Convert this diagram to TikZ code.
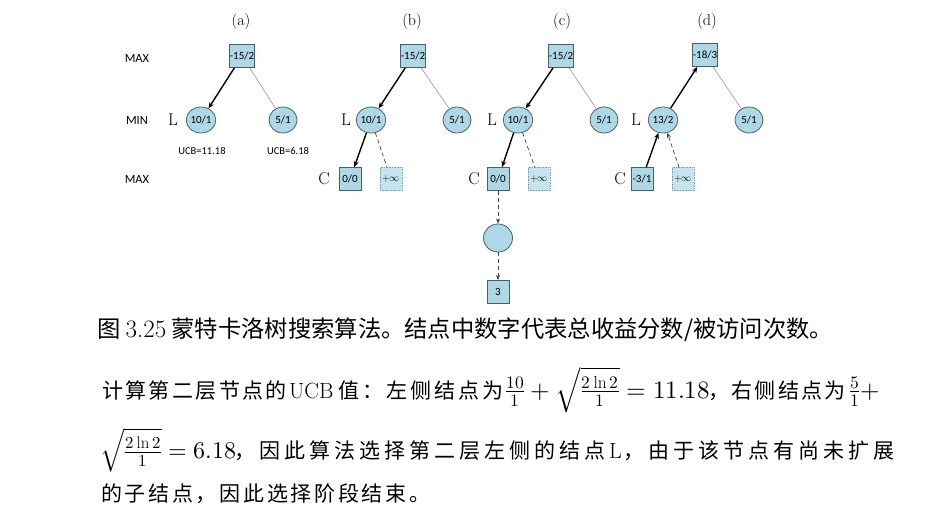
\documentclass[tikz,border=0pt]{standalone}
\usepackage{fontspec}
\usepackage{amsmath}
\usepackage{unicode-math}
\setmathfont{Latin Modern Math}
\setsansfont{Carlito}
\newfontfamily\cjk{Noto Sans CJK SC}
\usetikzlibrary{shapes.geometric,arrows.meta}
\newlength\pitchw
\newcommand\pitched[2]{\setlength\pitchw{#1}\plloop#2\relax}
\def\plloop#1{\ifx\relax#1\else\makebox[\pitchw][l]{#1}\expandafter\plloop\fi}
\definecolor{nfill}{RGB}{174,216,230}
\definecolor{nborder}{RGB}{70,95,110}
\definecolor{infill}{RGB}{196,228,238}
\definecolor{inborder}{RGB}{130,160,175}
\definecolor{thinc}{RGB}{150,150,150}
\tikzset{
  sq/.style={draw=nborder,fill=nfill,line width=0.8pt,minimum width=22pt,minimum height=23pt,inner sep=0pt,font=\sffamily\fontsize{11}{11}\selectfont},
  cir/.style={ellipse,draw=nborder,fill=nfill,line width=0.8pt,minimum width=28pt,minimum height=26pt,inner sep=0pt,font=\sffamily\fontsize{11}{11}\selectfont},
  infbox/.style={draw=inborder,densely dotted,fill=infill,line width=0.6pt,minimum width=22pt,minimum height=23pt,inner sep=0pt,font=\fontsize{10}{10}\selectfont},
  bigcir/.style={cir,minimum width=29pt,minimum height=28pt},
  sublbl/.style={font=\fontsize{16}{16}\selectfont},
  sidelbl/.style={font=\fontsize{17}{17}\selectfont},
  lvl/.style={font=\sffamily\fontsize{12.5}{12.5}\selectfont},
  ucb/.style={font=\sffamily\fontsize{10.5}{10.5}\selectfont},
  bold/.style={-{Stealth[length=6pt,width=5pt]},line width=1.4pt,black},
  weak/.style={thinc,line width=0.6pt},
  dsh/.style={dashed,dash pattern=on 4pt off 3pt,line width=0.7pt,black!75},
  dsharr/.style={dsh,-{Stealth[length=5pt,width=4pt]}},
  txt/.style={anchor=base west,inner sep=0pt,font=\fontsize{21}{24}\selectfont\cjk},
  lat/.style={anchor=base west,inner sep=0pt,font=\rmfamily\fontsize{22}{24}\selectfont},
  mth/.style={anchor=base west,inner sep=0pt,font=\fontsize{25}{27}\selectfont},
  mths/.style={mth,font=\fontsize{24}{26}\selectfont},
}
\begin{document}
\begin{tikzpicture}[x=1pt,y=-1pt]
\useasboundingbox[fill=white] (0,0) rectangle (940,516);
% level labels
\node[lvl] (lmax1) at (137,58) {MAX};
\node[lvl] (lmin) at (137,120) {MIN};
\node[lvl] (lmax2) at (137,179) {MAX};
% (a)
\node[sublbl] (la) at (241,22) {(a)};
\node[sq] (a0) at (242,56) {-15/2};
\node[cir] (aL) at (201,120) {10/1};
\node[cir] (aR) at (283,120) {5/1};
\node[sidelbl] (aLl) at (173,120) {L};
\node[ucb] (u1) at (202,151) {UCB=11.18};
\node[ucb] (u2) at (288,151) {UCB=6.18};
\draw[bold] (a0) -- (aL);
\draw[weak] (a0) -- (aR);
% (b)
\node[sublbl] (lb) at (412,22) {(b)};
\node[sq] (b0) at (413,56) {-15/2};
\node[cir] (bL) at (371,120) {10/1};
\node[cir] (bR) at (457,120) {5/1};
\node[sidelbl] (bLl) at (346,120) {L};
\node[sq] (bC) at (350,179) {0/0};
\node[infbox] (bI) at (391,179) {$+\infty$};
\node[sidelbl] (bCl) at (324,179) {C};
\draw[bold] (b0) -- (bL);
\draw[weak] (b0) -- (bR);
\draw[bold] (bL) -- (bC);
\draw[dsh] (bL) -- (bI);
% (c)
\node[sublbl] (lc) at (562,22) {(c)};
\node[sq] (c0) at (561,56) {-15/2};
\node[cir] (cL) at (518,120) {10/1};
\node[cir] (cR) at (604,120) {5/1};
\node[sidelbl] (cLl) at (492,120) {L};
\node[sq] (cC) at (498,179) {0/0};
\node[infbox] (cI) at (539,179) {$+\infty$};
\node[sidelbl] (cCl) at (474,179) {C};
\node[bigcir] (cE) at (498,238) {};
\node[sq] (c3) at (498,292) {3};
\draw[bold] (c0) -- (cL);
\draw[weak] (c0) -- (cR);
\draw[bold] (cL) -- (cC);
\draw[dsh] (cL) -- (cI);
\draw[dsharr] (cC) -- (cE);
\draw[dsharr] (cE) -- (c3);
% (d)
\node[sublbl] (ld) at (707,22) {(d)};
\node[sq] (d0) at (705,55) {-18/3};
\node[cir] (dL) at (663,120) {13/2};
\node[cir] (dR) at (749,120) {5/1};
\node[sidelbl] (dLl) at (636,120) {L};
\node[sq] (dC) at (642,179) {-3/1};
\node[infbox] (dI) at (683,179) {$+\infty$};
\node[sidelbl] (dCl) at (620,179) {C};
\draw[bold] (dL) -- (d0);
\draw[weak] (d0) -- (dR);
\draw[bold] (dC) -- (dL);
\draw[dsharr] (dI) -- (dL);
% caption
\node[anchor=base west,inner sep=0pt,font=\fontsize{23.3}{24}\selectfont] (cap) at (97,337)
  {\cjk 图 {\rmfamily\fontsize{25}{25}\selectfont 3.25} 蒙特卡洛树搜索算法。结点中数字代表总收益分数/被访问次数。};
% body line 1
\node[txt] (t1a) at (102,398) {\pitched{23.4pt}{计算第二层节点的}};
\node[lat] (t1u) at (289,398) {UCB};
\node[txt] (t1b) at (338,398) {\pitched{24pt}{值：左侧结点为}};
\node[mth] (m1) at (505,398) {$\frac{10}{1}+\sqrt{\frac{2\ln 2}{1}}=11.18$};
\node[txt] (t1c) at (708,398) {\pitched{23.3pt}{，右侧结点为}};
\node[mth] (m2) at (849,398) {$\frac{5}{1}+$};
% body line 2
\node[mths] (m3) at (100,458) {$\sqrt{\frac{2\ln 2}{1}}=6.18$};
\node[txt] (t2a) at (234,458) {\pitched{25pt}{，因此算法选择第二层左侧的结点}};
\node[lat] (t2l) at (609,458) {L};
\node[txt] (t2b) at (623,458) {\pitched{25pt}{，由于该节点有尚未扩展}};
% body line 3
\node[txt] (t3) at (101,501) {\pitched{23.7pt}{的子结点，因此选择阶段结束。}};
\end{tikzpicture}
\end{document}
